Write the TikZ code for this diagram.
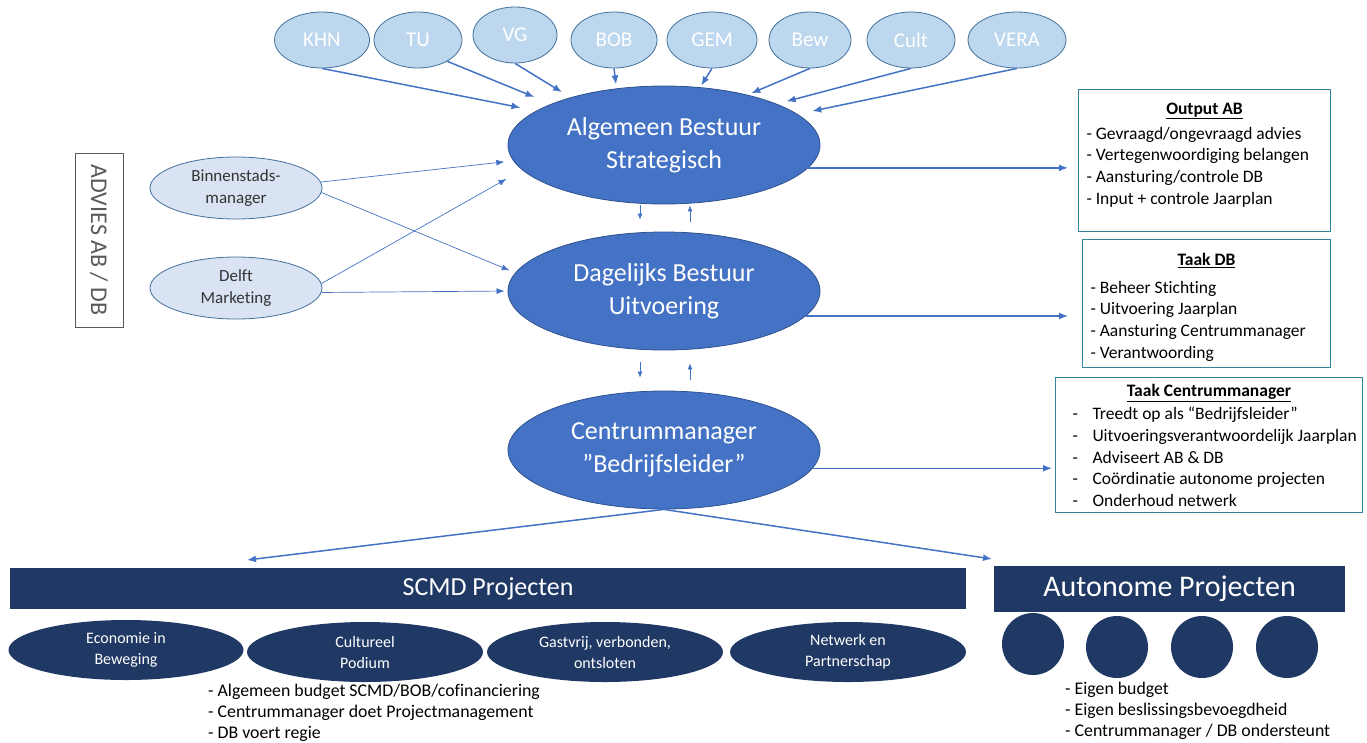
\documentclass[tikz,border=0pt]{standalone}
\usepackage{fontspec}
\setmainfont{Carlito}[Ligatures=NoCommon]
\usepackage{tikz}
\usetikzlibrary{shapes.geometric, arrows.meta, calc}
\usepackage{xcolor}

\definecolor{mainblue}{HTML}{4472C4}
\definecolor{mainedge}{HTML}{2F528F}
\definecolor{partyfill}{HTML}{BDD7EE}
\definecolor{advfill}{HTML}{DAE3F3}
\definecolor{partyedge}{HTML}{41719C}
\definecolor{navy}{HTML}{203864}
\definecolor{boxedge}{HTML}{31859C}
\definecolor{darktext}{HTML}{333333}
\definecolor{advgray}{HTML}{595959}

\begin{document}
\begin{tikzpicture}[x=1pt, y=-1pt,
  board/.style={ellipse, draw=mainedge, fill=mainblue, text=white, line width=0.8pt, minimum width=312pt, minimum height=118pt, inner sep=0pt, align=flush center, font=\fontsize{26}{33}\selectfont},
  party/.style={ellipse, draw=partyedge, fill=partyfill, text=white, line width=0.8pt, minimum height=56pt, inner sep=0pt, font=\fontsize{21}{24}\selectfont},
  advisor/.style={ellipse, draw=partyedge, fill=advfill, text=darktext, line width=0.8pt, minimum width=172pt, minimum height=62pt, inner sep=0pt, align=flush center, font=\fontsize{17}{22}\selectfont},
  taskbox/.style={draw=boxedge, line width=1pt, anchor=north west, align=flush left, inner xsep=8pt, inner ysep=6pt, font=\fontsize{17.5}{21.7}\selectfont},
  bar/.style={fill=navy, text=white, inner sep=0pt},
  project/.style={ellipse, fill=navy, text=white, minimum width=236pt, minimum height=60pt, inner sep=0pt, align=flush center, font=\fontsize{16}{21}\selectfont},
  autonomous/.style={ellipse, fill=navy, minimum width=62pt, minimum height=62pt, inner sep=0pt},
  note/.style={anchor=north west, align=flush left, inner sep=0pt, font=\fontsize{17.8}{21}\selectfont},
  link/.style={draw=mainblue, line width=1.5pt, -{Latex[length=9pt,width=7pt]}},
  thinlink/.style={draw=mainblue, line width=0.7pt, -{Latex[length=8pt,width=6pt]}},
  hop/.style={draw=mainblue, line width=0.7pt, -{Latex[length=6pt,width=5pt]}}
]
\useasboundingbox (0,0) rectangle (1367,742);

% bestuur
\node[board] (ab) at (664,145) {Algemeen Bestuur\\Strategisch};
\node[board] (db) at (664,291) {Dagelijks Bestuur\\Uitvoering};
\node[board] (cm) at (664,450) {Centrummanager\\”Bedrijfsleider”};

% partijen boven
\node[party, minimum width=95pt] (khn) at (322,40) {KHN};
\node[party, minimum width=88pt] (tu) at (418,40) {TU};
\node[party, minimum width=84pt] (vg) at (515,35) {VG};
\node[party, minimum width=86pt] (bob) at (614,40) {BOB};
\node[party, minimum width=90pt] (gem) at (712,40) {GEM};
\node[party, minimum width=82pt] (bew) at (810,40) {Bew};
\node[party, minimum width=88pt] (cult) at (911,40) {Cult};
\node[party, minimum width=98pt] (vera) at (1017,40) {VERA};

\draw[link, shorten >=16pt] (khn.south) -- (ab.165);
\draw[link, shorten >=18pt] (tu.-36) -- (ab.160);
\draw[link, shorten >=10pt] (vg.south) -- (ab.153);
\draw[link, shorten >=4pt] (bob.south) -- (ab.130);
\draw[link, shorten >=2pt] (gem.south) -- (ab.58);
\draw[link, shorten >=4pt] (bew.south) -- (ab.31);
\draw[link, shorten >=10pt] (cult.south) -- (ab.20);
\draw[link, shorten >=15pt] (vera.south) -- (ab.13);

% advies
\node[draw=advgray, line width=0.8pt, rotate=-90, minimum width=174pt, minimum height=48pt, text=advgray, font=\fontsize{24}{28}\selectfont] (advies) at (99,240) {ADVIES AB / DB};
\node[advisor] (bm) at (236,188) {Binnenstads-\\manager};
\node[advisor] (dm) at (236,288) {Delft\\Marketing};

\draw[thinlink, shorten >=9pt] (bm.4) -- (ab.186);
\draw[thinlink, shorten >=6pt] (bm.-3) -- (db.173);
\draw[thinlink, shorten >=18pt] (dm.3) -- (ab.190);
\draw[thinlink, shorten >=3pt] (dm.-3) -- (db.180);

% tussen de lagen
\draw[hop, shorten <=1pt, shorten >=12pt] ([xshift=-24pt]ab.south) -- ([xshift=-24pt]db.north);
\draw[hop, shorten <=10pt, shorten >=1pt] ([xshift=26pt]db.north) -- ([xshift=26pt]ab.south);
\draw[hop, shorten <=12pt, shorten >=13pt] ([xshift=-24pt]db.south) -- ([xshift=-24pt]cm.north);
\draw[hop, shorten <=11pt, shorten >=13pt] ([xshift=26pt]cm.north) -- ([xshift=26pt]db.south);

% taken
\node[taskbox, text width=236pt] (outab) at (1078,89) {\centerline{\rule{0pt}{19pt}\textbf{\underline{Output AB}}}\vspace{3pt}
- Gevraagd/ongevraagd advies\\
- Vertegenwoordiging belangen\\
- Aansturing/controle DB\\
- Input + controle Jaarplan\rule[-21pt]{0pt}{1pt}};
\node[taskbox, text width=232pt] (taakdb) at (1082,239) {\centerline{\rule{0pt}{20pt}\textbf{\underline{Taak DB}}}\vspace{6pt}
- Beheer Stichting\\
- Uitvoering Jaarplan\\
- Aansturing Centrummanager\\
- Verantwoording};
\node[taskbox, inner xsep=4pt, text width=299pt] (taakcm) at (1055,377) {\centerline{\rule{0pt}{13pt}\textbf{\underline{Taak Centrummanager}}}\vspace{1.5pt}
\makebox[33pt][l]{\hspace{13pt}-}Treedt op als “Bedrijfsleider”\\
\makebox[33pt][l]{\hspace{13pt}-}Uitvoeringsverantwoordelijk Jaarplan\\
\makebox[33pt][l]{\hspace{13pt}-}Adviseert AB \& DB\\
\makebox[33pt][l]{\hspace{13pt}-}Coördinatie autonome projecten\\
\makebox[33pt][l]{\hspace{13pt}-}Onderhoud netwerk};

\draw[link, shorten >=10pt] (ab.-9) -- (ab.-9 -| outab.west);
\draw[link, shorten >=14pt] (db.-10) -- (db.-10 -| taakdb.west);
\draw[link, shorten >=3pt] (cm.-7) -- (cm.-7 -| taakcm.west);

% projecten
\node[bar, minimum width=956pt, minimum height=41pt, font=\fontsize{26}{30}\selectfont] (scmd) at (488,588.5) {SCMD Projecten};
\node[bar, minimum width=351pt, minimum height=46pt, font=\fontsize{30}{34}\selectfont] (auto) at (1169.5,589) {Autonome Projecten};
\coordinate (scmdtip) at (247,560);
\coordinate (autotip) at (992,559);
\draw[link] (cm.south) -- (scmdtip);
\draw[link] (cm.south) -- (autotip);

\node[project, minimum width=235pt] (eco) at (126,650) {Economie in\\Beweging};
\node[project] (cultpod) at (365,652) {Cultureel\\Podium};
\node[project] (gast) at (605,652) {Gastvrij, verbonden,\\ontsloten};
\node[project] (netw) at (848,652) {Netwerk en\\Partnerschap};

\node[autonomous] (ap1) at (1033,644) {};
\node[autonomous] (ap2) at (1117,647) {};
\node[autonomous] (ap3) at (1202,647) {};
\node[autonomous] (ap4) at (1287,647) {};

\node[note] (scmdnote) at (208,684) {- Algemeen budget SCMD/BOB/cofinanciering\\
- Centrummanager doet Projectmanagement\\
- DB voert regie};
\node[note] (autonote) at (1065,682) {- Eigen budget\\
- Eigen beslissingsbevoegdheid\\
- Centrummanager / DB ondersteunt};
\end{tikzpicture}
\end{document}
